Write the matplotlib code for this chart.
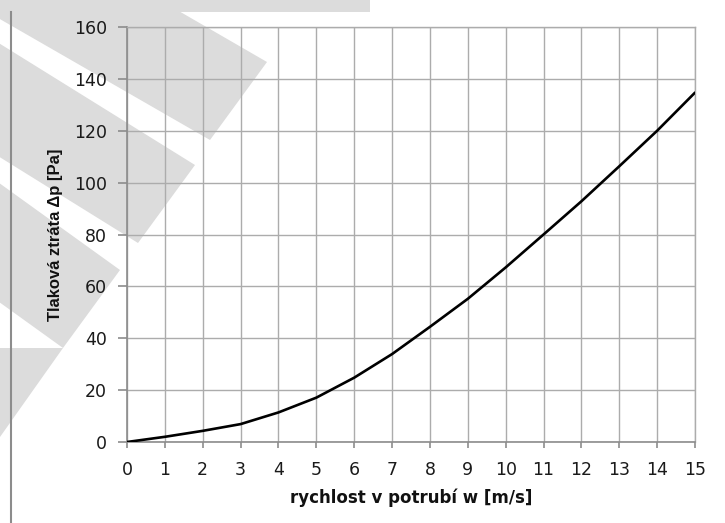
import matplotlib.pyplot as plt
from matplotlib.patches import Polygon
from matplotlib.lines import Line2D

# rychlost w [m/s] a tlakova ztrata dp [Pa]
w = [0, 1, 2, 3, 4, 5, 6, 7, 8, 9, 10, 11, 12, 13, 14, 15]
dp = [0, 2, 4.3, 6.9, 11.4, 17.1, 24.8, 33.9, 44.4, 55.2, 67.3, 80, 92.8, 106.3, 120, 134.7]
x_ticks = list(range(0, 16))
y_ticks = [0, 20, 40, 60, 80, 100, 120, 140, 160]

W, H = 725, 523
fig = plt.figure(figsize=(W / 100, H / 100), dpi=100)

def px(pts):
    # pixel souradnice -> zlomek obrazku
    return [(x / W, 1 - y / H) for x, y in pts]

# sedy vodoznak v pozadi
bands = [
    [(0, 0), (370, 0), (370, 12), (0, 12)],
    [(267, 62), (210, 140), (-134, -58), (-79, -138)],
    [(195, 165), (138, 243), (-213, 25), (-151, -50)],
    [(120, 270), (63, 348), (-337, 60), (-280, -18)],
    [(0, 348), (63, 348), (0, 437)],
]
for b in bands:
    fig.patches.append(Polygon(px(b), closed=True, transform=fig.transFigure,
                               facecolor='#dcdcdc', edgecolor='none', zorder=-5))

fig.lines.append(Line2D([11 / W, 11 / W], [0, 1 - 12 / H], transform=fig.transFigure,
                        color='#8c8c8c', lw=1.5, zorder=-4))

ax = fig.add_axes([127 / W, 1 - 442 / H, (695 - 127) / W, (442 - 27) / H])
ax.set_facecolor('none')
ax.plot(w, dp, color='black', lw=1.9, zorder=3, solid_capstyle='round')

ax.set_xlim(0, 15)
ax.set_ylim(0, 160)
ax.set_xticks(x_ticks)
ax.set_yticks(y_ticks)
ax.grid(True, color='#acacac', lw=1.0)
ax.set_axisbelow(True)
for s in ['top', 'right']:
    ax.spines[s].set_color('#acacac')
    ax.spines[s].set_linewidth(1.0)
for s in ['left', 'bottom']:
    ax.spines[s].set_color('#8c8c8c')
    ax.spines[s].set_linewidth(1.2)

ax.tick_params(axis='y', length=6.5, width=1.2, color='#8c8c8c', pad=8,
               labelsize=12.5, labelcolor='#1a1a1a')
ax.tick_params(axis='x', length=4.5, width=1.2, color='#8c8c8c', pad=9,
               labelsize=12.5, labelcolor='#1a1a1a')

ax.set_xlabel('rychlost v potrubí w [m/s]', fontsize=12, fontweight='bold',
              color='#111111', va='center')
ax.xaxis.set_label_coords(0.5, (442 - 498) / 415)
ax.set_ylabel('Tlaková ztráta Δp [Pa]', fontsize=12, fontweight='bold',
              family='Liberation Sans', color='#111111', va='center')
ax.yaxis.set_label_coords((56 - 127) / 568, 0.5)

fig.savefig('out.png', dpi=100)
